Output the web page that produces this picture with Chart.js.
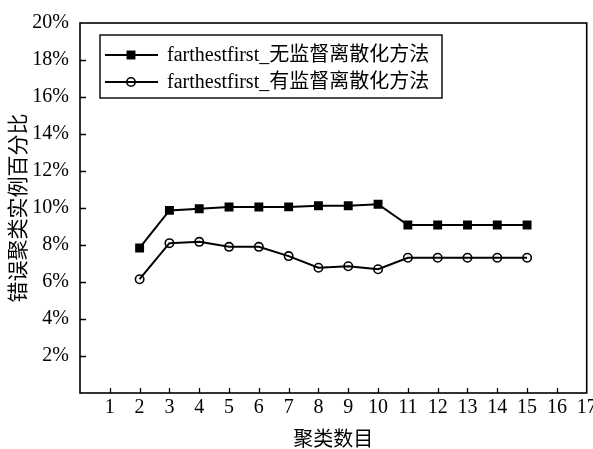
<!DOCTYPE html>
<html>
<head>
<meta charset="utf-8">
<script src="https://cdn.jsdelivr.net/npm/chart.js@4.4.1/dist/chart.umd.min.js"></script>
<style>
    html, body { margin: 0; padding: 0; background: #fff; }
    #wrap { width: 593px; height: 449px; position: relative; }
</style>
</head>
<body>
<div id="wrap"><canvas id="errChart"></canvas></div>
<script>
// 聚类数目 (x) and the two error-rate series (%)
const clusterCounts = [2, 3, 4, 5, 6, 7, 8, 9, 10, 11, 12, 13, 14, 15];
const unsupervisedErr = [7.84, 9.87, 9.96, 10.05, 10.05, 10.06, 10.12, 10.12, 10.2, 9.08, 9.08, 9.08, 9.08, 9.08];
const supervisedErr = [6.15, 8.1, 8.17, 7.9, 7.9, 7.4, 6.77, 6.85, 6.69, 7.31, 7.31, 7.31, 7.31, 7.31];
const seriesLabels = ['farthestfirst_无监督离散化方法', 'farthestfirst_有监督离散化方法'];
const xTicks = [1, 2, 3, 4, 5, 6, 7, 8, 9, 10, 11, 12, 13, 14, 15, 16, 17];
const yTicks = [2, 4, 6, 8, 10, 12, 14, 16, 18, 20];

const FONT = '"Liberation Serif", "Noto Sans CJK SC", serif';

const toPoints = (xs, ys) => xs.map((x, i) => ({ x: x, y: ys[i] }));

// frame, inward tick marks and the boxed legend
const framePlugin = {
    id: 'framePlugin',
    afterDraw(chart) {
        const ctx = chart.ctx;
        const area = chart.chartArea;
        const xs = chart.scales.x;
        const ys = chart.scales.y;
        ctx.save();
        ctx.strokeStyle = '#000';
        ctx.lineWidth = 1.6;
        ctx.strokeRect(area.left, area.top, area.right - area.left, area.bottom - area.top);

        ctx.lineWidth = 1.3;
        ctx.beginPath();
        xTicks.forEach(t => {
            if (t >= 17) return;
            const px = Math.round(xs.getPixelForValue(t)) + 0.5;
            ctx.moveTo(px, area.bottom);
            ctx.lineTo(px, area.bottom - 5);
        });
        yTicks.forEach(t => {
            if (t >= 20) return;
            const py = Math.round(ys.getPixelForValue(t)) + 0.5;
            ctx.moveTo(area.left, py);
            ctx.lineTo(area.left + 6, py);
        });
        ctx.stroke();

        // legend box
        const box = { left: 100, top: 35, right: 442, bottom: 98 };
        ctx.lineWidth = 1.4;
        ctx.strokeRect(box.left, box.top, box.right - box.left, box.bottom - box.top);
        const rows = [55, 82];
        chart.data.datasets.forEach((ds, i) => {
            const y = rows[i];
            ctx.lineWidth = 2;
            ctx.strokeStyle = '#000';
            ctx.beginPath();
            ctx.moveTo(105, y);
            ctx.lineTo(158, y);
            ctx.stroke();
            ctx.fillStyle = ds.pointBackgroundColor;
            ctx.strokeStyle = ds.pointBorderColor;
            ctx.lineWidth = ds.pointBorderWidth;
            Chart.helpers.drawPoint(ctx, {
                pointStyle: ds.pointStyle,
                radius: ds.pointRadius,
                borderWidth: ds.pointBorderWidth
            }, 131, y);
            ctx.fillStyle = '#000';
            ctx.font = '20px ' + FONT;
            ctx.textBaseline = 'middle';
            ctx.textAlign = 'left';
            ctx.fillText(ds.label, 167, y + 1);
        });
        ctx.restore();
    }
};

const ctx = document.getElementById('errChart').getContext('2d');
const errChart = new Chart(ctx, {
    type: 'line',
    data: {
        datasets: [{
            label: seriesLabels[0],
            data: toPoints(clusterCounts, unsupervisedErr),
            borderColor: '#000',
            backgroundColor: '#000',
            borderWidth: 2,
            pointStyle: 'rect',
            pointRadius: 6.3,
            pointBorderWidth: 0,
            pointBackgroundColor: '#000',
            pointBorderColor: '#000',
            tension: 0
        }, {
            label: seriesLabels[1],
            data: toPoints(clusterCounts, supervisedErr),
            borderColor: '#000',
            backgroundColor: 'rgba(0,0,0,0)',
            borderWidth: 2,
            pointStyle: 'circle',
            pointRadius: 4.2,
            pointBorderWidth: 1.6,
            pointBackgroundColor: 'rgba(0,0,0,0)',
            pointBorderColor: '#000',
            tension: 0
        }]
    },
    options: {
        responsive: true,
        maintainAspectRatio: false,
        animation: false,
        devicePixelRatio: 1,
        layout: { padding: { left: 0, right: 3, top: 20, bottom: 0 } },
        plugins: {
            legend: { display: false },
            tooltip: { enabled: false }
        },
        scales: {
            x: {
                type: 'linear',
                min: 0,
                max: 17,
                afterBuildTicks: (scale) => { scale.ticks = [0].concat(xTicks).map(v => ({ value: v })); },
                afterFit: (scale) => { scale.height = 56; scale.paddingLeft = 0; scale.paddingRight = 0; },
                grid: { display: false, drawTicks: false },
                border: { display: false },
                ticks: {
                    color: '#000',
                    padding: 3,
                    maxRotation: 0,
                    autoSkip: false,
                    font: { family: FONT, size: 20 },
                    callback: (v) => v === 0 ? '' : String(v)
                },
                title: {
                    display: true,
                    text: '聚类数目',
                    color: '#000',
                    font: { family: FONT, size: 20 },
                    padding: { top: 0, bottom: -4 }
                }
            },
            y: {
                min: 0,
                max: 20,
                afterBuildTicks: (scale) => { scale.ticks = [0].concat(yTicks).map(v => ({ value: v })); },
                afterFit: (scale) => { scale.width = 80; },
                grid: { display: false, drawTicks: false },
                border: { display: false },
                ticks: {
                    color: '#000',
                    padding: 11,
                    autoSkip: false,
                    font: { family: FONT, size: 20 },
                    callback: (v) => v === 0 ? '' : v + '%'
                },
                title: {
                    display: true,
                    text: '错误聚类实例百分比',
                    color: '#000',
                    font: { family: FONT, size: 21 },
                    padding: { top: 7, bottom: 0 }
                }
            }
        }
    },
    plugins: [framePlugin]
});
</script>
</body>
</html>
